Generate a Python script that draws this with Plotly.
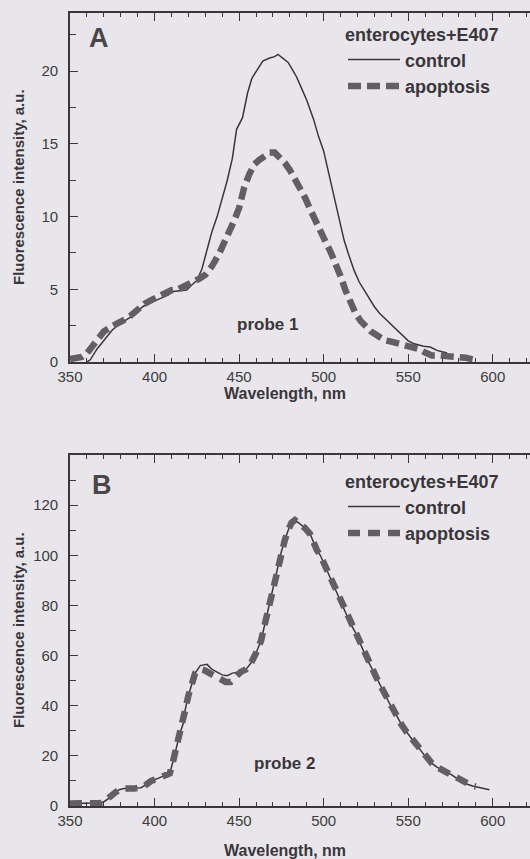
import plotly.graph_objects as go

# ---------------- Panel A (probe 1) ----------------
a_ctrl_nm = [360, 362, 366, 370, 375, 378, 382, 386, 390, 393, 396, 400, 404, 408, 411, 415, 419,
             422, 425, 428, 431, 434, 437, 440, 443, 446, 448.5, 452, 455, 457.5, 461, 464, 468,
             471, 473, 476, 479, 482, 484, 487, 490, 494, 497, 500, 503, 506, 509, 512, 515, 518,
             521, 524, 527, 530, 533, 537, 541, 544, 547, 550, 553, 556, 559, 563, 565, 567, 570, 573]
a_ctrl_val = [0, 0.15, 0.9, 1.5, 2.2, 2.5, 2.8, 3.1, 3.5, 3.8, 4.0, 4.2, 4.4, 4.6, 4.85, 4.9, 4.95,
              5.3, 5.6, 6.4, 7.8, 9.0, 10.0, 11.3, 12.5, 14.0, 16.0, 16.8, 18.5, 19.5, 20.2, 20.7, 20.9,
              21.0, 21.15, 20.9, 20.6, 20.0, 19.6, 18.8, 18.0, 16.7, 15.5, 14.5, 13.0, 11.5, 9.8, 8.4, 7.3, 6.3,
              5.5, 4.9, 4.3, 3.8, 3.35, 2.9, 2.45, 2.1, 1.75, 1.45, 1.27, 1.15, 1.08, 1.03, 0.9, 0.8, 0.7, 0.62]

a_apop_nm = [350, 353, 357, 360, 363, 366, 370, 374, 378, 382, 386, 390, 394, 398, 402, 406, 410,
             414, 418, 422, 426, 430, 434, 438, 441, 444, 447, 450, 453, 456, 459, 462, 465, 468,
             471, 474, 477, 480, 483, 486, 489, 492, 495, 498, 501, 504, 507, 510, 513, 516, 519,
             522, 525, 528, 532, 536, 540, 544, 548, 552, 556, 560, 564, 568, 572, 576, 580, 584, 588, 591]
a_apop_val = [0.2, 0.3, 0.35, 0.6, 1.0, 1.5, 2.1, 2.4, 2.6, 2.9, 3.2, 3.6, 4.0, 4.25, 4.5, 4.7, 4.94,
              5.0, 5.2, 5.45, 5.7, 6.0, 6.6, 7.4, 8.1, 8.9, 9.7, 10.6, 12.0, 12.9, 13.6, 13.9, 14.2, 14.4,
              14.4, 14.1, 13.7, 13.2, 12.6, 12.0, 11.3, 10.5, 9.7, 9.0, 8.3, 7.6, 6.8, 5.9, 4.9, 4.0, 3.3,
              2.8, 2.4, 2.1, 1.8, 1.5, 1.4, 1.3, 1.15, 1.08, 0.9, 0.65, 0.45, 0.45, 0.4, 0.42, 0.4, 0.3, 0.18, 0.15]

# ---------------- Panel B (probe 2) ----------------
b_ctrl_nm = [350, 360, 368, 370, 373, 376, 379, 382, 388, 392, 395, 398, 402, 406, 409, 411, 413, 415,
             417, 418, 420, 422, 424, 427, 431, 434, 437, 440, 443, 446, 450, 454, 457, 460, 463, 465,
             467, 469, 471, 473, 475, 477, 479, 481, 483, 486, 489, 492, 494, 496, 498, 501, 504, 507,
             510, 513, 516, 519, 522, 525, 528, 531, 534, 537, 540, 543, 546, 549, 552, 555, 558, 561,
             564, 567, 570, 573, 576, 579, 582, 585, 588, 591, 594, 598]
b_ctrl_val = [1.0, 1.0, 1.2, 1.7, 3, 5, 6.5, 7, 7, 7.3, 8.5, 10, 11, 12.2, 13, 18, 23.5, 29,
              33, 38, 44, 49, 53, 56, 56.5, 54.5, 53.3, 52.3, 52, 53, 53.5, 54.5, 57, 61, 66, 72,
              78, 84, 90, 96.5, 101.5, 106, 110, 113, 114, 112.5, 110.8, 108.5, 105, 102, 100, 95.5, 90.5, 86,
              81.5, 77, 72.5, 69, 64, 59.5, 55.5, 51.5, 47.5, 43.5, 39.5, 36.2, 32.5, 29.5, 26.8, 24.5, 21.7, 19,
              17, 15.5, 14.4, 13.5, 12.3, 10.8, 9.7, 8.7, 8, 7.5, 7, 6.5]

b_apop_nm = [350, 360, 368, 370, 373, 376, 379, 382, 388, 392, 395, 398, 402, 406, 409, 411, 413, 415,
             417, 418, 420, 422, 424, 427, 430, 433, 436, 439, 442, 445, 448, 451, 454, 457, 460, 463, 465,
             467, 469, 471, 473, 475, 477, 479, 481, 483, 486, 489, 492, 494, 496, 498, 501, 504, 507,
             510, 513, 516, 519, 522, 525, 528, 531, 534, 537, 540, 543, 546, 549, 552, 555, 558, 561,
             564, 567, 570, 573, 576, 579, 582, 585, 588, 590]
b_apop_val = [1.0, 1.0, 1.2, 1.7, 3, 5, 6.5, 7, 7, 7.3, 8.5, 10, 11, 12.2, 13, 18, 23.5, 29,
              33, 38, 44, 49, 53, 54.5, 54, 52.8, 51.8, 50.5, 49.5, 49.5, 52, 53.5, 54.5, 57, 61, 66, 72,
              78, 84, 90, 96.5, 101.5, 106, 110, 113, 114, 112.5, 110.8, 108.5, 105, 102, 100, 95.5, 90.5, 86,
              81.5, 77, 72.5, 69, 64, 59.5, 55.5, 51.5, 47.5, 43.5, 39.5, 36.2, 32.5, 29.5, 26.8, 24.5, 21.7, 19,
              17, 15.5, 14.4, 13.5, 12.3, 10.8, 9.7, 8.7, 8, 7.8]

x_ticks = [350, 400, 450, 500, 550, 600]
a_y_ticks = [0, 5, 10, 15, 20]
b_y_ticks = [0, 20, 40, 60, 80, 100, 120]

FONT = "Liberation Sans, Arial, sans-serif"
BG = "#e8e6eb"
INK = "#3a363a"
DASHC = "#635e63"

W, H = 530, 859
L = 70
def py(px):
    return 1 - px / H
def px_(x):
    return (x - L) / (W - L)

fig = go.Figure()

fig.add_trace(go.Scatter(x=a_ctrl_nm, y=a_ctrl_val, mode="lines", name="control",
                         line=dict(color=INK, width=1.5), xaxis="x", yaxis="y", legend="legend"))
fig.add_trace(go.Scatter(x=a_apop_nm, y=a_apop_val, mode="lines", name="apoptosis",
                         line=dict(color=DASHC, width=6.5, dash="13px,6px"), xaxis="x", yaxis="y",
                         legend="legend"))
fig.add_trace(go.Scatter(x=b_ctrl_nm, y=b_ctrl_val, mode="lines", name="control",
                         line=dict(color=INK, width=1.5), xaxis="x2", yaxis="y2", legend="legend2"))
fig.add_trace(go.Scatter(x=b_apop_nm, y=b_apop_val, mode="lines", name="apoptosis",
                         line=dict(color=DASHC, width=6.5, dash="12px,8px"), xaxis="x2", yaxis="y2",
                         legend="legend2"))

xcommon = dict(range=[350, 622], tickvals=x_ticks, ticks="inside", ticklen=8, tickwidth=1.3,
               tickcolor=INK, showline=True, linecolor=INK, linewidth=2, mirror="allticks",
               showgrid=False, zeroline=False, automargin=False,
               minor=dict(dtick=10, ticks="inside", ticklen=4, tickwidth=1.2, tickcolor=INK),
               tickfont=dict(family=FONT, size=15, color="#3c3c3c"))
ycommon = dict(ticks="inside", ticklen=8, tickwidth=1.3, tickcolor=INK, showline=True,
               linecolor=INK, linewidth=1.6, mirror=False, showgrid=False, zeroline=False,
               automargin=False, ticklabelstandoff=7,
               tickfont=dict(family=FONT, size=15, color="#3c3c3c"))

dA = [py(362), py(13)]
dB = [py(806), py(455)]

legfont = dict(family=FONT, size=18, color=INK, weight="bold")
fig.update_layout(
    width=W, height=H,
    margin=dict(l=L, r=0, t=0, b=0),
    paper_bgcolor=BG, plot_bgcolor=BG,
    xaxis=dict(domain=[0, 1], anchor="y", **xcommon),
    yaxis=dict(domain=dA, anchor="x", range=[0, 24], tickvals=a_y_ticks,
               minor=dict(dtick=2.5, ticks="inside", ticklen=6, tickwidth=1.2, tickcolor=INK),
               **ycommon),
    xaxis2=dict(domain=[0, 1], anchor="y2", **xcommon),
    yaxis2=dict(domain=dB, anchor="x2", range=[0, 140], tickvals=b_y_ticks,
                minor=dict(dtick=10, ticks="inside", ticklen=6, tickwidth=1.2, tickcolor=INK),
                **ycommon),
    legend=dict(x=px_(343), y=py(18), xanchor="left", yanchor="top",
                bgcolor="rgba(0,0,0,0)", font=legfont, itemwidth=52,
                title=dict(text="enterocytes+E407", font=legfont), tracegroupgap=0),
    legend2=dict(x=px_(343), y=py(465), xanchor="left", yanchor="top",
                 bgcolor="rgba(0,0,0,0)", font=legfont, itemwidth=52,
                 title=dict(text="enterocytes+E407", font=legfont), tracegroupgap=0),
    showlegend=True,
)

def A(text, x, y, xref, yref, size, angle=0, color=INK):
    return dict(text=text, x=x, y=y, xref=xref, yref=yref, showarrow=False,
                xanchor="center", yanchor="middle", textangle=angle,
                font=dict(family=FONT, size=size, color=color))

ann = [
    A("<b>A</b>", 367, 22.3, "x", "y", 27, color="#4a464a"),
    A("<b>B</b>", 369, 128, "x2", "y2", 27, color="#4a464a"),
    A("<b>probe 1</b>", 466.5, 2.55, "x", "y", 17),
    A("<b>probe 2</b>", 477, 17, "x2", "y2", 17),
    A("<b>Wavelength, nm</b>", px_(285), py(393), "paper", "paper", 16),
    A("<b>Wavelength, nm</b>", px_(285), py(850), "paper", "paper", 16),
    A("<b>Fluorescence intensity, a.u.</b>", px_(18), py(187), "paper", "paper", 15, -90),
    A("<b>Fluorescence intensity, a.u.</b>", px_(18), py(630), "paper", "paper", 15, -90),
]
fig.update_layout(annotations=ann)

fig.write_html("out.html", config={"displayModeBar": False},
               post_script="document.body.style.margin='0';document.body.style.overflow='hidden';")
